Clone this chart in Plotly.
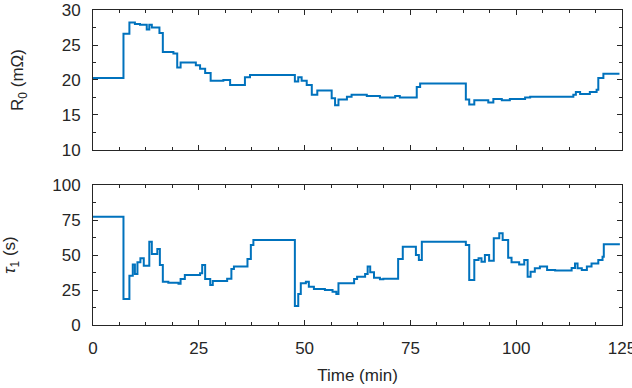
import plotly.graph_objects as go

# R0 (mOhm) step data: start time of each level (min) and level value
r0_time = [0, 7.2, 8.6, 9.9, 11.1, 12.7, 13.3, 13.9, 15.7, 16.5, 19.0, 19.9, 20.7, 24.3, 25.3,
           26.5, 27.8, 30.8, 32.4, 35.9, 37.1, 47.7, 48.5, 49.3, 50.5, 51.7, 53.0, 56.4, 57.2,
           58.0, 60.0, 61.1, 64.7, 67.8, 71.4, 72.5, 76.5, 77.3, 88.1, 88.9, 90.1, 93.4, 94.6,
           96.6, 98.5, 102.1, 103.3, 113.5, 114.1, 115.1, 117.4, 119.0, 119.4, 120.6, 124.4]
r0_value = [20.3, 26.6, 28.2, 28.0, 27.9, 27.2, 27.9, 27.5, 26.7, 24.0, 23.8, 21.8, 22.5, 22.1,
            21.6, 21.0, 19.9, 20.0, 19.3, 20.4, 20.7, 19.8, 20.4, 19.9, 19.3, 17.9, 18.5, 17.4,
            16.4, 17.2, 17.6, 17.9, 17.7, 17.5, 17.7, 17.5, 19.0, 19.5, 17.2, 16.5, 17.1, 16.8,
            17.3, 17.1, 17.3, 17.5, 17.6, 17.9, 18.3, 18.0, 18.3, 18.6, 20.3, 20.9, 20.9]

# tau1 (s) step data
tau_time = [0, 7.2, 8.6, 9.4, 9.9, 10.5, 11.2, 12.0, 13.3, 13.9, 15.2, 15.8, 16.5, 17.8, 20.2,
            20.7, 21.7, 25.3, 25.8, 26.5, 27.7, 28.3, 31.7, 32.7, 33.3, 36.5, 37.3, 37.9, 47.7,
            48.5, 49.1, 50.3, 51.0, 52.2, 54.8, 56.6, 57.5, 58.0, 61.7, 62.4, 64.3, 64.9, 65.5,
            66.4, 67.8, 68.6, 72.1, 73.2, 76.3, 77.0, 77.7, 88.1, 88.9, 90.1, 91.1, 91.8, 92.6,
            93.6, 94.7, 96.0, 96.8, 98.1, 98.9, 100.7, 101.9, 102.7, 103.4, 104.4, 105.6, 107.3,
            109.2, 113.1, 113.9, 114.5, 115.5, 116.7, 117.8, 119.4, 120.4, 120.7, 124.5]
tau_value = [77.4, 18.6, 35.2, 43.3, 36.4, 44.8, 47.6, 42.4, 59.5, 50.7, 54.3, 42.9, 30.9, 30.2,
             29.5, 32.9, 35.7, 36.9, 42.9, 32.9, 28.6, 31.4, 33.0, 40.0, 41.7, 47.1, 57.1, 60.7,
             13.6, 22.1, 29.8, 30.9, 27.4, 25.7, 25.0, 23.8, 22.1, 29.8, 32.9, 34.5, 36.4, 41.7,
             37.6, 33.8, 32.6, 33.0, 47.1, 55.9, 50.0, 46.4, 59.5, 57.1, 32.1, 46.4, 47.6, 45.2,
             50.0, 45.9, 61.9, 65.5, 60.7, 48.1, 44.8, 43.3, 46.4, 34.5, 38.1, 40.5, 41.7, 39.3,
             39.0, 40.7, 44.0, 40.5, 39.3, 41.7, 44.0, 46.4, 48.8, 57.6, 57.6]

x_ticks = [0, 25, 50, 75, 100, 125]
r0_ticks = [10, 15, 20, 25, 30]
tau_ticks = [0, 25, 50, 75, 100]

LINE = "#0072BD"
AX = "#262626"
FONT = "Liberation Sans, Arial, sans-serif"

fig = go.Figure()
fig.add_trace(go.Scatter(x=r0_time, y=r0_value, mode="lines", line=dict(color=LINE, width=2, shape="hv"),
                         xaxis="x", yaxis="y", showlegend=False, hoverinfo="skip"))
fig.add_trace(go.Scatter(x=tau_time, y=tau_value, mode="lines", line=dict(color=LINE, width=2, shape="hv"),
                         xaxis="x2", yaxis="y2", showlegend=False, hoverinfo="skip"))

common = dict(showline=True, linecolor=AX, linewidth=1, mirror="ticks", ticks="inside",
              tickcolor=AX, ticklen=5, tickwidth=1, showgrid=False, zeroline=False,
              automargin=False, ticklabeloverflow="allow",
              tickfont=dict(family=FONT, size=17, color=AX))

fig.update_layout(
    width=632, height=388,
    margin=dict(l=93, r=10, t=10, b=63, autoexpand=False),
    paper_bgcolor="white", plot_bgcolor="white",
    font=dict(family=FONT, size=17, color=AX),
    xaxis=dict(domain=[0, 1], range=[0, 125], anchor="y", tickvals=x_ticks, showticklabels=False,
               minor=dict(dtick=6.25, tick0=0, ticks="inside", ticklen=3, tickcolor=AX), **common),
    yaxis=dict(domain=[0.5556, 1], range=[10, 30], anchor="x", tickvals=r0_ticks,
               ticklabelstandoff=8,
               minor=dict(dtick=2.5, tick0=0, ticks="inside", ticklen=3, tickcolor=AX),
               title=dict(text="R<sub>0</sub> (mΩ)", standoff=33, font=dict(family=FONT, size=17, color=AX)),
               **common),
    xaxis2=dict(domain=[0, 1], range=[0, 125], anchor="y2", tickvals=x_ticks,
                ticklabelstandoff=8,
                minor=dict(dtick=6.25, tick0=0, ticks="inside", ticklen=3, tickcolor=AX),
                title=dict(text="Time (min)", standoff=11, font=dict(family=FONT, size=17, color=AX)),
                **common),
    yaxis2=dict(domain=[0, 0.4444], range=[0, 100], anchor="x2", tickvals=tau_ticks,
                ticklabelstandoff=8,
                minor=dict(dtick=12.5, tick0=0, ticks="inside", ticklen=3, tickcolor=AX),
                title=dict(text="<i>τ</i><sub>1</sub> (s)", standoff=33, font=dict(family=FONT, size=17, color=AX)),
                **common),
)

fig.write_html("out.html", config={"displayModeBar": False},
               post_script="document.body.style.margin='0';document.body.style.overflow='hidden';")
